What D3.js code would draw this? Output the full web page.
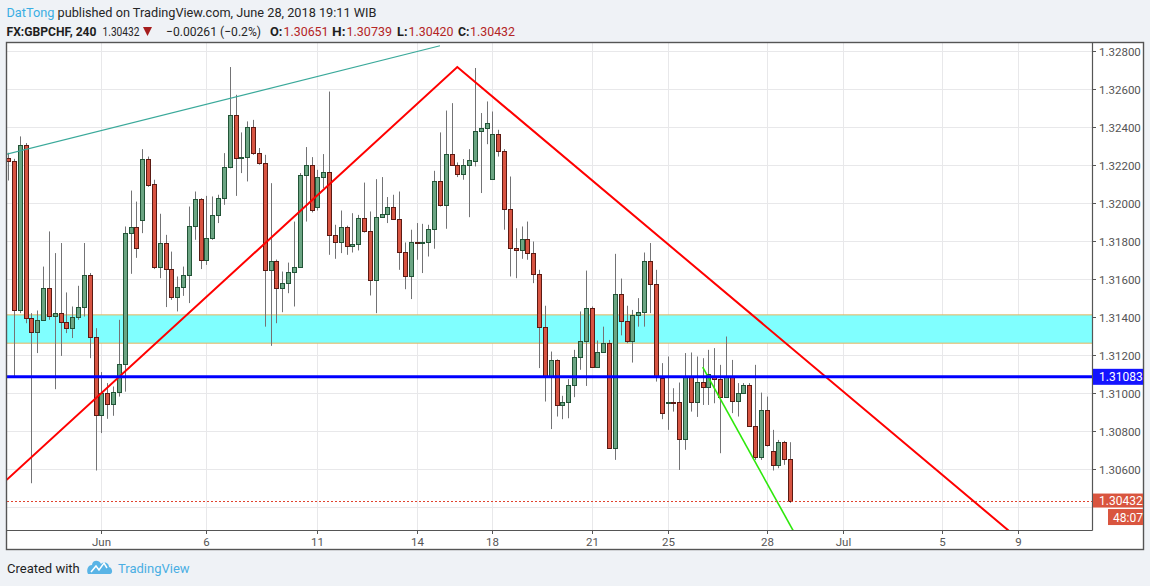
<!DOCTYPE html>
<html>
<head>
<meta charset="utf-8">
<script src="https://cdn.jsdelivr.net/npm/d3@7"></script>
<style>
  html, body { margin: 0; padding: 0; background: #eff2f6; }
  svg { display: block; font-family: Roboto, "Liberation Sans", Arial, sans-serif; }
</style>
</head>
<body>
<svg id="chart" width="1150" height="586"></svg>
<script>
// ---------------- DATA ----------------
const symbol = "FX:GBPCHF, 240";
const author = "DatTong";
const publishedText = " published on TradingView.com, June 28, 2018 19:11 WIB";
const firstBarIndex = -16; // bar index of the first visible candle (0 = Jun 1 00:00 WIB)

const opens = [
1.32234,1.32221,1.31432,1.32302,1.31390,1.31321,1.31383,1.31550,1.31405,1.31421,1.31369,1.31342,1.31400,1.31448,1.31618,1.31295,
1.30883,1.31000,1.30939,1.31005,1.31150,1.31842,1.31871,1.31909,1.32229,1.32097,1.31663,1.31787,1.31650,1.31505,1.31558,1.31620,
1.31874,1.32018,1.31699,1.31813,1.31935,1.32023,1.32187,1.32462,1.32237,1.32242,1.32397,1.32260,1.32207,1.31646,1.31695,1.31548,
1.31576,1.31632,1.31663,1.32144,1.32197,1.31979,1.32134,1.32160,1.31830,1.31790,1.31871,1.31769,1.31781,1.31918,1.31848,1.31590,
1.31923,1.31939,1.31976,1.31913,1.31742,1.31611,1.31795,1.31788,1.31790,1.31860,1.32114,1.31988,1.32255,1.32197,1.32150,1.32197,
1.32221,1.32377,1.32392,1.32123,1.32362,1.32269,1.31965,1.31760,1.31748,1.31808,1.31734,1.31623,1.31347,1.31081,1.31172,1.30935,
1.30948,1.31041,1.31187,1.31269,1.31444,1.31137,1.31216,1.31260,1.30707,1.31519,1.31379,1.31274,1.31409,1.31423,1.31695,1.31571,
1.31076,1.30950,1.30953,1.30948,1.30757,1.31084,1.30948,1.31054,1.31032,1.31081,1.31072,1.30979,1.31084,1.30958,1.31000,1.31039,
1.30826,1.30663,1.30909,1.30695,1.30620,1.30742,1.30651];
const highs = [
1.32262,1.32230,1.32348,1.32313,1.31418,1.31432,1.31663,1.31848,1.31734,1.31787,1.31527,1.31453,1.31562,1.31787,1.31629,1.31339,
1.31108,1.31050,1.31032,1.31383,1.31874,1.32063,1.32005,1.32281,1.32242,1.32120,1.31941,1.31830,1.31742,1.31611,1.31663,1.31979,
1.32058,1.32023,1.32035,1.32032,1.32041,1.32260,1.32713,1.32567,1.32369,1.32427,1.32435,1.32287,1.32251,1.32102,1.31700,1.31637,
1.31684,1.31900,1.32155,1.32292,1.32239,1.32172,1.32255,1.32584,1.31883,1.31958,1.31878,1.31944,1.31935,1.32105,1.31953,1.32123,
1.32134,1.32029,1.32041,1.32058,1.31790,1.31857,1.31892,1.31888,1.31883,1.32167,1.32369,1.32484,1.32523,1.32211,1.32229,1.32281,
1.32708,1.32471,1.32532,1.32479,1.32383,1.32281,1.32137,1.31865,1.31874,1.31900,1.31795,1.31646,1.31457,1.31216,1.31175,1.30983,
1.31071,1.31225,1.31427,1.31642,1.31453,1.31274,1.31347,1.31277,1.31730,1.31600,1.31457,1.31435,1.31497,1.31737,1.31787,1.31646,
1.31155,1.31190,1.31023,1.31053,1.31208,1.31211,1.31190,1.31181,1.31225,1.31234,1.31146,1.31295,1.31172,1.31050,1.31050,1.31050,
1.31146,1.31000,1.30979,1.30804,1.30751,1.30746,1.30739];
const lows = [
1.32116,1.31079,1.31418,1.31365,1.30523,1.31208,1.31378,1.31383,1.31018,1.31193,1.31313,1.31287,1.31383,1.31400,1.31181,1.30590,
1.30787,1.30862,1.30878,1.30979,1.31005,1.31625,1.31709,1.31839,1.32083,1.31650,1.31602,1.31450,1.31488,1.31427,1.31509,1.31471,
1.31804,1.31650,1.31672,1.31804,1.31892,1.31988,1.32180,1.32035,1.32155,1.32111,1.32251,1.32199,1.31347,1.31246,1.31365,1.31423,
1.31523,1.31453,1.31660,1.31900,1.31948,1.31958,1.32076,1.31725,1.31704,1.31734,1.31725,1.31737,1.31748,1.31842,1.31511,1.31418,
1.31920,1.31892,1.31909,1.31646,1.31544,1.31492,1.31699,1.31629,1.31716,1.31757,1.31979,1.31862,1.32193,1.32134,1.32120,1.31923,
1.32190,1.32050,1.32307,1.32120,1.32242,1.31857,1.31611,1.31602,1.31704,1.31699,1.31576,1.31129,1.30953,1.30808,1.30874,1.30860,
1.30865,1.30976,1.31120,1.31035,1.31135,1.31135,1.31214,1.30704,1.30646,1.31301,1.31260,1.31158,1.31347,1.31347,1.31418,1.31058,
1.30860,1.30804,1.30900,1.30593,1.30699,1.30900,1.30872,1.30935,1.30935,1.30944,1.30681,1.30972,1.30892,1.30874,1.30998,1.30821,
1.30646,1.30646,1.30716,1.30590,1.30602,1.30620,1.30420];
const closes = [
1.32221,1.31432,1.32302,1.31390,1.31321,1.31383,1.31550,1.31405,1.31421,1.31369,1.31342,1.31400,1.31448,1.31618,1.31295,1.30883,
1.31000,1.30939,1.31005,1.31150,1.31842,1.31871,1.31760,1.32229,1.32093,1.31663,1.31787,1.31650,1.31505,1.31558,1.31620,1.31874,
1.32018,1.31699,1.31813,1.31935,1.32023,1.32187,1.32462,1.32237,1.32242,1.32397,1.32260,1.32207,1.31646,1.31695,1.31548,1.31576,
1.31632,1.31663,1.32144,1.32197,1.31962,1.32134,1.32160,1.31830,1.31790,1.31871,1.31769,1.31781,1.31918,1.31848,1.31590,1.31923,
1.31939,1.31976,1.31913,1.31742,1.31611,1.31790,1.31787,1.31793,1.31860,1.32114,1.31988,1.32255,1.32197,1.32150,1.32197,1.32225,
1.32377,1.32392,1.32418,1.32362,1.32269,1.31965,1.31760,1.31748,1.31808,1.31734,1.31623,1.31347,1.31081,1.31172,1.30935,1.30948,
1.31041,1.31187,1.31269,1.31444,1.31137,1.31216,1.31260,1.30707,1.31519,1.31379,1.31274,1.31409,1.31423,1.31695,1.31571,1.31080,
1.30895,1.30953,1.30948,1.30757,1.31084,1.30948,1.31054,1.31032,1.31096,1.31072,1.30979,1.31084,1.30958,1.31000,1.31039,1.30826,
1.30663,1.30909,1.30725,1.30620,1.30742,1.30650,1.30432];

const timeTickLabels = ["Jun","6","11","14","18","21","25","28","Jul","5","9"];
const timeTickIndex  = [0, 18, 37, 54, 67, 84, 97, 114, 127, 144, 157];
const priceGrid  = [1.304,1.306,1.308,1.310,1.312,1.314,1.316,1.318,1.320,1.322,1.324,1.326,1.328];
const priceTicks = [1.306,1.308,1.310,1.312,1.314,1.316,1.318,1.320,1.322,1.324,1.326,1.328];

// drawings: [barIndex, price]
const tealTrend  = [[-16.23, 1.32255], [58.02, 1.32825]];
const redWedge   = [[-16.23, 1.30541], [60.98, 1.32713], [155.6, 1.30270]];
const greenTrend = [[103.03, 1.31134], [118.6, 1.30270]];
const zoneTop = 1.31409, zoneBottom = 1.31260;
const keyLevel = 1.31083;
const lastPrice = 1.30432;
const countdown = "48:07";
const headerValues = { last: "1.30432", change: "\u22120.00261 (\u22120.2%)", O: "1.30651", H: "1.30739", L: "1.30420", C: "1.30432" };

// ---------------- LAYOUT ----------------
const plot = { left: 7, right: 1092, top: 43, bottom: 530 };
const frame = { left: 7, right: 1143, top: 43, bottom: 549 };
const svg = d3.select("#chart");

const x = d3.scaleLinear().domain([-16.18, 169.74]).range([plot.left, plot.right]);
const y = d3.scaleLinear().domain([1.30277, 1.328395]).range([plot.bottom, plot.top]);

const upFill = "#6ba583", downFill = "#d75442", upLine = "#225437", downLine = "#5b1a13", wickCol = "#737375";

// widget background
svg.append("rect").attr("x", frame.left).attr("y", frame.top)
  .attr("width", frame.right - frame.left).attr("height", frame.bottom - frame.top)
  .attr("fill", "#ffffff");

svg.append("clipPath").attr("id", "plotClip").append("rect")
  .attr("x", plot.left).attr("y", plot.top)
  .attr("width", plot.right - plot.left).attr("height", plot.bottom - plot.top);

const g = svg.append("g").attr("clip-path", "url(#plotClip)");

// grid
g.selectAll("line.hgrid").data(priceGrid).enter().append("line")
  .attr("x1", plot.left).attr("x2", plot.right)
  .attr("y1", d => Math.round(y(d)) + 0.5).attr("y2", d => Math.round(y(d)) + 0.5)
  .attr("stroke", "#e8e8ea").attr("stroke-width", 1);
g.selectAll("line.vgrid").data(timeTickIndex).enter().append("line")
  .attr("y1", plot.top).attr("y2", plot.bottom)
  .attr("x1", d => Math.round(x(d)) + 0.5).attr("x2", d => Math.round(x(d)) + 0.5)
  .attr("stroke", "#e8e8ea").attr("stroke-width", 1);

// zone rectangle
g.append("rect")
  .attr("x", x(-20)).attr("width", x(175) - x(-20))
  .attr("y", y(zoneTop)).attr("height", y(zoneBottom) - y(zoneTop))
  .attr("fill", "#80ffff").attr("stroke", "#e4b45e").attr("stroke-width", 1);

// candles
const bars = opens.map((o, k) => ({ i: firstBarIndex + k, o, h: highs[k], l: lows[k], c: closes[k] }));
const cg = g.append("g");
bars.forEach(b => {
  const cx = Math.round(x(b.i));
  const up = b.c >= b.o;
  cg.append("line")
    .attr("x1", cx + 0.5).attr("x2", cx + 0.5)
    .attr("y1", y(b.h)).attr("y2", y(b.l))
    .attr("stroke", wickCol).attr("stroke-width", 1);
  const yt = Math.round(y(Math.max(b.o, b.c)));
  const yb = Math.round(y(Math.min(b.o, b.c)));
  cg.append("rect")
    .attr("x", cx - 1.5).attr("width", 4)
    .attr("y", yt + 0.5).attr("height", Math.max(yb - yt, 1))
    .attr("fill", up ? upFill : downFill)
    .attr("stroke", up ? upLine : downLine).attr("stroke-width", 1);
});

// drawings
const line = d3.line().x(d => x(d[0])).y(d => y(d[1]));
g.append("path").attr("d", line(tealTrend)).attr("fill", "none").attr("stroke", "#3aa99a").attr("stroke-width", 1.2);
g.append("path").attr("d", line(redWedge)).attr("fill", "none").attr("stroke", "#ff0000").attr("stroke-width", 2);
g.append("path").attr("d", line(greenTrend)).attr("fill", "none").attr("stroke", "#2ee80c").attr("stroke-width", 1.6);

// key horizontal level
g.append("line").attr("x1", plot.left).attr("x2", plot.right)
  .attr("y1", y(keyLevel)).attr("y2", y(keyLevel))
  .attr("stroke", "#0000ff").attr("stroke-width", 3);

// last price dotted line
g.append("line").attr("x1", plot.left).attr("x2", plot.right)
  .attr("y1", Math.round(y(lastPrice)) + 0.5).attr("y2", Math.round(y(lastPrice)) + 0.5)
  .attr("stroke", "#e0442f").attr("stroke-width", 1).attr("stroke-dasharray", "2,2");

// frame lines
svg.append("rect").attr("x", frame.left - 0.5).attr("y", frame.top - 0.5)
  .attr("width", frame.right - frame.left + 1).attr("height", frame.bottom - frame.top + 1)
  .attr("fill", "none").attr("stroke", "#555").attr("stroke-width", 1.4);
svg.append("line").attr("x1", plot.right + 0.5).attr("x2", plot.right + 0.5)
  .attr("y1", plot.top).attr("y2", plot.bottom + 0.5).attr("stroke", "#555").attr("stroke-width", 1.2);
svg.append("line").attr("x1", plot.left).attr("x2", plot.right + 0.5)
  .attr("y1", plot.bottom + 0.5).attr("y2", plot.bottom + 0.5).attr("stroke", "#555").attr("stroke-width", 1.2);

// price axis
const pa = svg.append("g");
priceTicks.forEach(p => {
  const yy = Math.round(y(p)) + 0.5;
  pa.append("line").attr("x1", plot.right).attr("x2", plot.right + 4)
    .attr("y1", yy).attr("y2", yy).attr("stroke", "#555");
  pa.append("text").attr("x", plot.right + 7).attr("y", yy + 4)
    .attr("font-size", 11.5).attr("fill", "#555").text(d3.format(".5f")(p));
});

// time axis
const ta = svg.append("g");
timeTickIndex.forEach((ti, k) => {
  const xx = Math.round(x(ti)) + 0.5;
  ta.append("line").attr("x1", xx).attr("x2", xx).attr("y1", plot.bottom).attr("y2", plot.bottom + 4).attr("stroke", "#555");
  ta.append("text").attr("x", xx).attr("y", plot.bottom + 16).attr("text-anchor", "middle")
    .attr("font-size", 11.5).attr("fill", "#555").text(timeTickLabels[k]);
});

// price labels
function priceLabel(fill, txt, yc, x0, x1, h) {
  svg.append("rect").attr("x", x0).attr("y", yc - h / 2).attr("width", x1 - x0).attr("height", h).attr("fill", fill);
  svg.append("text").attr("x", x0 + 6).attr("y", yc + 4.5).attr("font-size", 12).attr("fill", "#fff").text(txt);
}
priceLabel("#1414ff", d3.format(".5f")(keyLevel), y(keyLevel), plot.right + 1, frame.right, 16);
priceLabel("#d9553f", d3.format(".5f")(lastPrice), y(lastPrice), plot.right + 1, frame.right, 14);
svg.append("rect").attr("x", 1108).attr("y", y(lastPrice) + 8.5).attr("width", frame.right - 1108).attr("height", 16).attr("fill", "#d9553f");
svg.append("text").attr("x", 1113).attr("y", y(lastPrice) + 21).attr("font-size", 12).attr("fill", "#fff").text(countdown);

// header line 1
const h1 = svg.append("text").attr("x", 6.5).attr("y", 17).attr("font-size", 13.5).attr("fill", "#262626")
  .attr("textLength", 370).attr("lengthAdjust", "spacingAndGlyphs");
h1.append("tspan").attr("fill", "#3aaee3").text(author);
h1.append("tspan").text(publishedText);

// header line 2 (each piece placed as in the reference)
const red = "#b42525";
const hdr = [
  { t: symbol, x: 6.5, w: 90, bold: true, col: "#1e1e1e" },
  { t: headerValues.last, x: 102.5, w: 37, col: "#262626" },
  { t: headerValues.change, x: 166, w: 95, col: "#262626" },
  { t: "O:", x: 270, w: 12.5, bold: true, col: "#1e1e1e" },
  { t: headerValues.O, x: 283.5, w: 45, col: red },
  { t: "H:", x: 332, w: 13.5, bold: true, col: "#1e1e1e" },
  { t: headerValues.H, x: 346.5, w: 45.5, col: red },
  { t: "L:", x: 397, w: 10.5, bold: true, col: "#1e1e1e" },
  { t: headerValues.L, x: 408.5, w: 45, col: red },
  { t: "C:", x: 458, w: 11.5, bold: true, col: "#1e1e1e" },
  { t: headerValues.C, x: 470, w: 45, col: red }
];
hdr.forEach(d => {
  svg.append("text").attr("x", d.x).attr("y", 36).attr("font-size", 13.5)
    .attr("font-weight", d.bold ? "bold" : "normal").attr("fill", d.col)
    .attr("textLength", d.w).attr("lengthAdjust", "spacingAndGlyphs").text(d.t);
});
svg.append("path").attr("d", "M143,27 L152,27 L147.5,36 Z").attr("fill", "#a51d1d");

// footer
svg.append("text").attr("x", 7).attr("y", 573).attr("font-size", 13).attr("fill", "#1e1e1e").text("Created with");
svg.append("path")
  .attr("d", "M88,574 L110,574 C113,574 113,568 109,567 C109,563 104,561 101,564 C99,559 92,560 92,565 C88,565 86,570 88,574 Z")
  .attr("fill", "#59b4e6");
svg.append("path").attr("d", "M91,572 L96,566 L99,570 L104,563 L107,568")
  .attr("fill", "none").attr("stroke", "#fff").attr("stroke-width", 1.5);
svg.append("text").attr("x", 118).attr("y", 573).attr("font-size", 13).attr("fill", "#4aaee3").text("TradingView");
</script>
</body>
</html>
